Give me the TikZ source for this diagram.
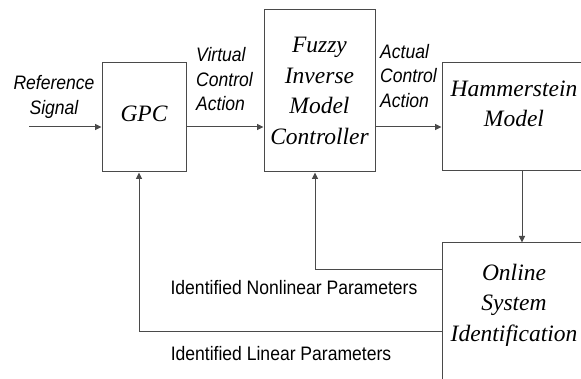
\documentclass[tikz,border=0pt]{standalone}
\usepackage{fontspec}
\setmainfont{Liberation Serif}
\newfontfamily\labfont[FakeStretch=0.9]{Liberation Sans}
\usetikzlibrary{arrows.meta}
\definecolor{linegray}{HTML}{4A4A4A}
\tikzset{
  blockbox/.style={draw=linegray, line width=1pt, rectangle, inner sep=0pt},
  blocktext/.style={font=\fontsize{23.5}{30.5}\selectfont\itshape, align=center, inner sep=0pt},
  sidelabel/.style={font=\labfont\fontsize{19.5}{24.5}\selectfont\itshape, inner sep=0pt},
  paramlabel/.style={font=\labfont\fontsize{19.5}{24}\selectfont, inner sep=0pt},
  conn/.style={draw=linegray, line width=1pt, -{Triangle[length=6.5pt,width=6pt]}},
  plainconn/.style={draw=linegray, line width=1pt}
}
\begin{document}
\begin{tikzpicture}[x=1pt,y=-1pt]
\useasboundingbox (0,0) rectangle (581,379);
\clip (0,0) rectangle (581,379);
% boxes
\node[blockbox, minimum width=84pt, minimum height=109pt] (gpc) at (144,117.5) {};
\node[blockbox, minimum width=111pt, minimum height=162pt] (fuzzy) at (319.5,91) {};
\node[blockbox, minimum width=144pt, minimum height=108pt] (ham) at (514,117) {};
\node[blockbox, minimum width=144pt, minimum height=160pt] (osi) at (514,323) {};
% box texts
\node[blocktext, anchor=base] (gpct) at (144,121.7) {GPC};
\node[blocktext] (fuzzyt) at (319.5,91) {Fuzzy\\Inverse\\Model\\Controller};
\node[blocktext] (hamt) at (514,104) {Hammerstein\\Model};
\node[blocktext] (osit) at (514,305) {Online\\System\\Identification};
% side labels
\node[sidelabel, align=center] (refl) at (54,97) {Reference\\Signal};
\node[sidelabel, align=left, anchor=west] (vca) at (196,79.4) {Virtual\\Control\\Action};
\node[sidelabel, align=left, anchor=west] (aca) at (380,75.6) {Actual\\Control\\Action};
\node[paramlabel] (nlp) at (294,288) {Identified Nonlinear Parameters};
\node[paramlabel] (lp) at (281,354) {Identified Linear Parameters};
% coordinates
\coordinate (refin) at (29,127);
\coordinate (fwd) at (0,127);
\coordinate (nly) at (0,270);
\coordinate (ly) at (0,332);
\coordinate (nlx) at (315,0);
\coordinate (lx) at (139,0);
\coordinate (dx) at (522,0);
% connectors
\draw[conn] (refin) -- (refin -| gpc.west);
\draw[conn] (fwd -| gpc.east) -- (fwd -| fuzzy.west);
\draw[conn] (fwd -| fuzzy.east) -- (fwd -| ham.west);
\draw[conn] (ham.south -| dx) -- (osi.north -| dx);
\draw[conn] (osi.west |- nly) -| (fuzzy.south -| nlx);
\draw[conn] (osi.west |- ly) -| (gpc.south -| lx);
\end{tikzpicture}
\end{document}
